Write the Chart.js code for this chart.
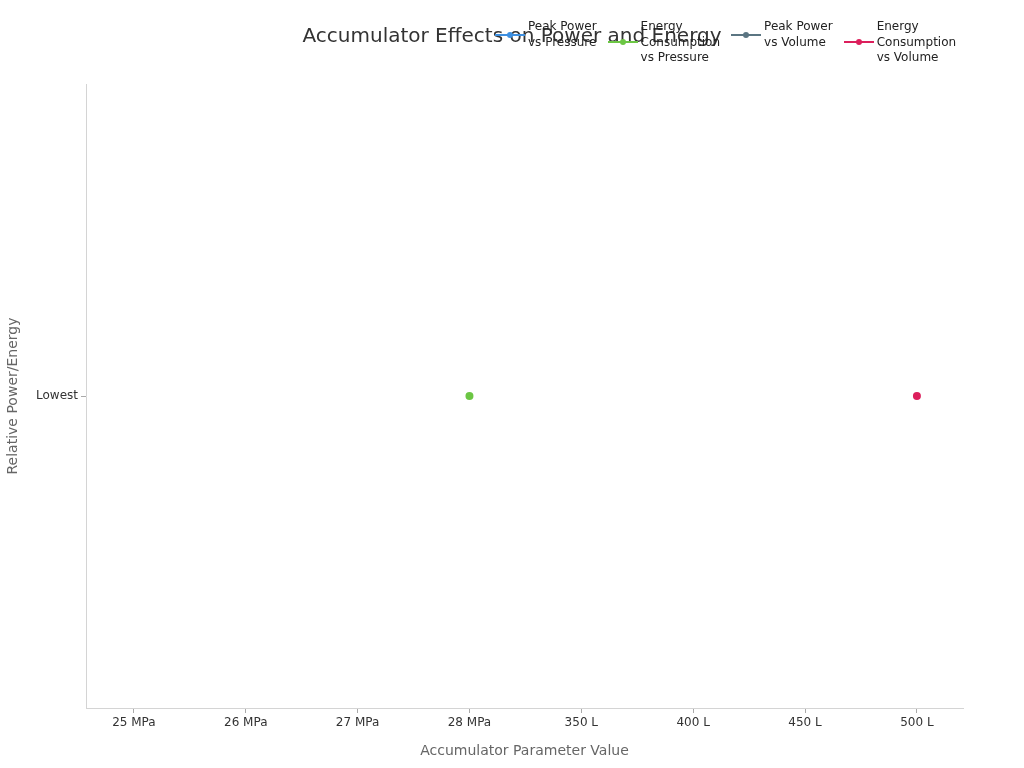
<!DOCTYPE html>
<html>
<head>
<meta charset="utf-8">
<script src="https://cdn.jsdelivr.net/npm/chart.js@4.4.0/dist/chart.umd.min.js"></script>
<style>
  body { margin: 0; background: #fff; font-family: "DejaVu Sans", sans-serif; }
  #wrap { position: relative; width: 1024px; height: 768px; }
  #title { position: absolute; top: 22px; left: 0; width: 1024px; text-align: center;
           font-size: 20px; color: #333; line-height: 26px; }
  #legend { position: absolute; top: 19px; left: 495px; display: flex; align-items: flex-start; }
  .item { display: flex; align-items: center; margin-right: 11px; font-size: 12px; color: #222; line-height: 15.5px; }
  .mark { position: relative; width: 30px; height: 2px; margin-right: 3px; }
  .mark span { position: absolute; left: 12px; top: -2px; width: 6px; height: 6px; border-radius: 50%; }
</style>
</head>
<body>
<div id="wrap">
  <canvas id="chart"></canvas>
  <div id="title">Accumulator Effects on Power and Energy</div>
  <div id="legend"></div>
</div>
<script>
const chartTitle = 'Accumulator Effects on Power and Energy';
const xLabels = ['25 MPa', '26 MPa', '27 MPa', '28 MPa', '350 L', '400 L', '450 L', '500 L'];
const yLabels = ['Lowest'];

// pressure series sit on the first four categories, volume series on the last four
const peakPowerVsPressure = [null, null, null, null];
const energyVsPressure = [null, null, null, 'Lowest'];
const peakPowerVsVolume = [null, null, null, null];
const energyVsVolume = [null, null, null, 'Lowest'];

const seriesNames = [
    ['Peak Power', 'vs Pressure'],
    ['Energy', 'Consumption', 'vs Pressure'],
    ['Peak Power', 'vs Volume'],
    ['Energy', 'Consumption', 'vs Volume']
];
const seriesColors = ['#3d8fe0', '#6cc644', '#5b7582', '#dc1f5c'];

function toPoints(values, start) {
    return values.map((v, i) => ({ x: i + start, y: v }));
}

function mostrarGrafico(id) {
    const ctx = document.getElementById(id);
    const sets = [
        toPoints(peakPowerVsPressure, 0),
        toPoints(energyVsPressure, 0),
        toPoints(peakPowerVsVolume, 4),
        toPoints(energyVsVolume, 4)
    ];

    const data = {
        datasets: sets.map((pts, i) => ({
            label: seriesNames[i].join(' '),
            data: pts,
            borderColor: seriesColors[i],
            backgroundColor: seriesColors[i],
            borderWidth: 2,
            pointRadius: 3,
            pointHoverRadius: 5,
            spanGaps: false
        }))
    };

    const font = { family: '"DejaVu Sans", sans-serif' };

    const config = {
        type: 'line',
        data: data,
        options: {
            responsive: true,
            maintainAspectRatio: false,
            animation: false,
            layout: { padding: { top: 84, right: 61, left: 0, bottom: 0 } },
            plugins: {
                legend: { display: false },
                title: { display: false },
                tooltip: { enabled: true }
            },
            scales: {
                x: {
                    type: 'linear',
                    min: -0.428,
                    max: 7.412,
                    afterBuildTicks: axis => {
                        axis.ticks = xLabels.map((_, i) => ({ value: i }));
                    },
                    afterFit: axis => { axis.height = 60; },
                    ticks: {
                        callback: v => xLabels[v],
                        color: '#333',
                        font: { ...font, size: 12 },
                        padding: 3,
                        maxRotation: 0
                    },
                    grid: { drawOnChartArea: false, drawTicks: true, tickLength: 5, color: '#aaa' },
                    border: { color: '#d4d4d4' },
                    title: {
                        display: true,
                        text: 'Accumulator Parameter Value',
                        color: '#666',
                        font: { ...font, size: 14 },
                        padding: { top: 4, bottom: 8 }
                    }
                },
                y: {
                    type: 'category',
                    labels: yLabels,
                    offset: true,
                    afterFit: axis => { axis.width = 86; },
                    ticks: { color: '#333', font: { ...font, size: 12 }, padding: 3 },
                    grid: { drawOnChartArea: false, drawTicks: true, tickLength: 5, color: '#aaa' },
                    border: { color: '#d4d4d4' },
                    title: {
                        display: true,
                        text: 'Relative Power/Energy',
                        color: '#666',
                        font: { ...font, size: 14 },
                        padding: { top: 5, bottom: 4 }
                    }
                }
            }
        }
    };
    const myChart = new Chart(ctx, config);

    // legend built from the chart's own datasets
    const box = document.getElementById('legend');
    myChart.data.datasets.forEach((ds, i) => {
        const item = document.createElement('div');
        item.className = 'item';
        const mark = document.createElement('div');
        mark.className = 'mark';
        mark.style.background = ds.borderColor;
        const dot = document.createElement('span');
        dot.style.background = ds.borderColor;
        mark.appendChild(dot);
        const txt = document.createElement('div');
        txt.innerHTML = seriesNames[i].join('<br>');
        item.appendChild(mark);
        item.appendChild(txt);
        box.appendChild(item);
    });
}

mostrarGrafico('chart');
</script>
</body>
</html>
